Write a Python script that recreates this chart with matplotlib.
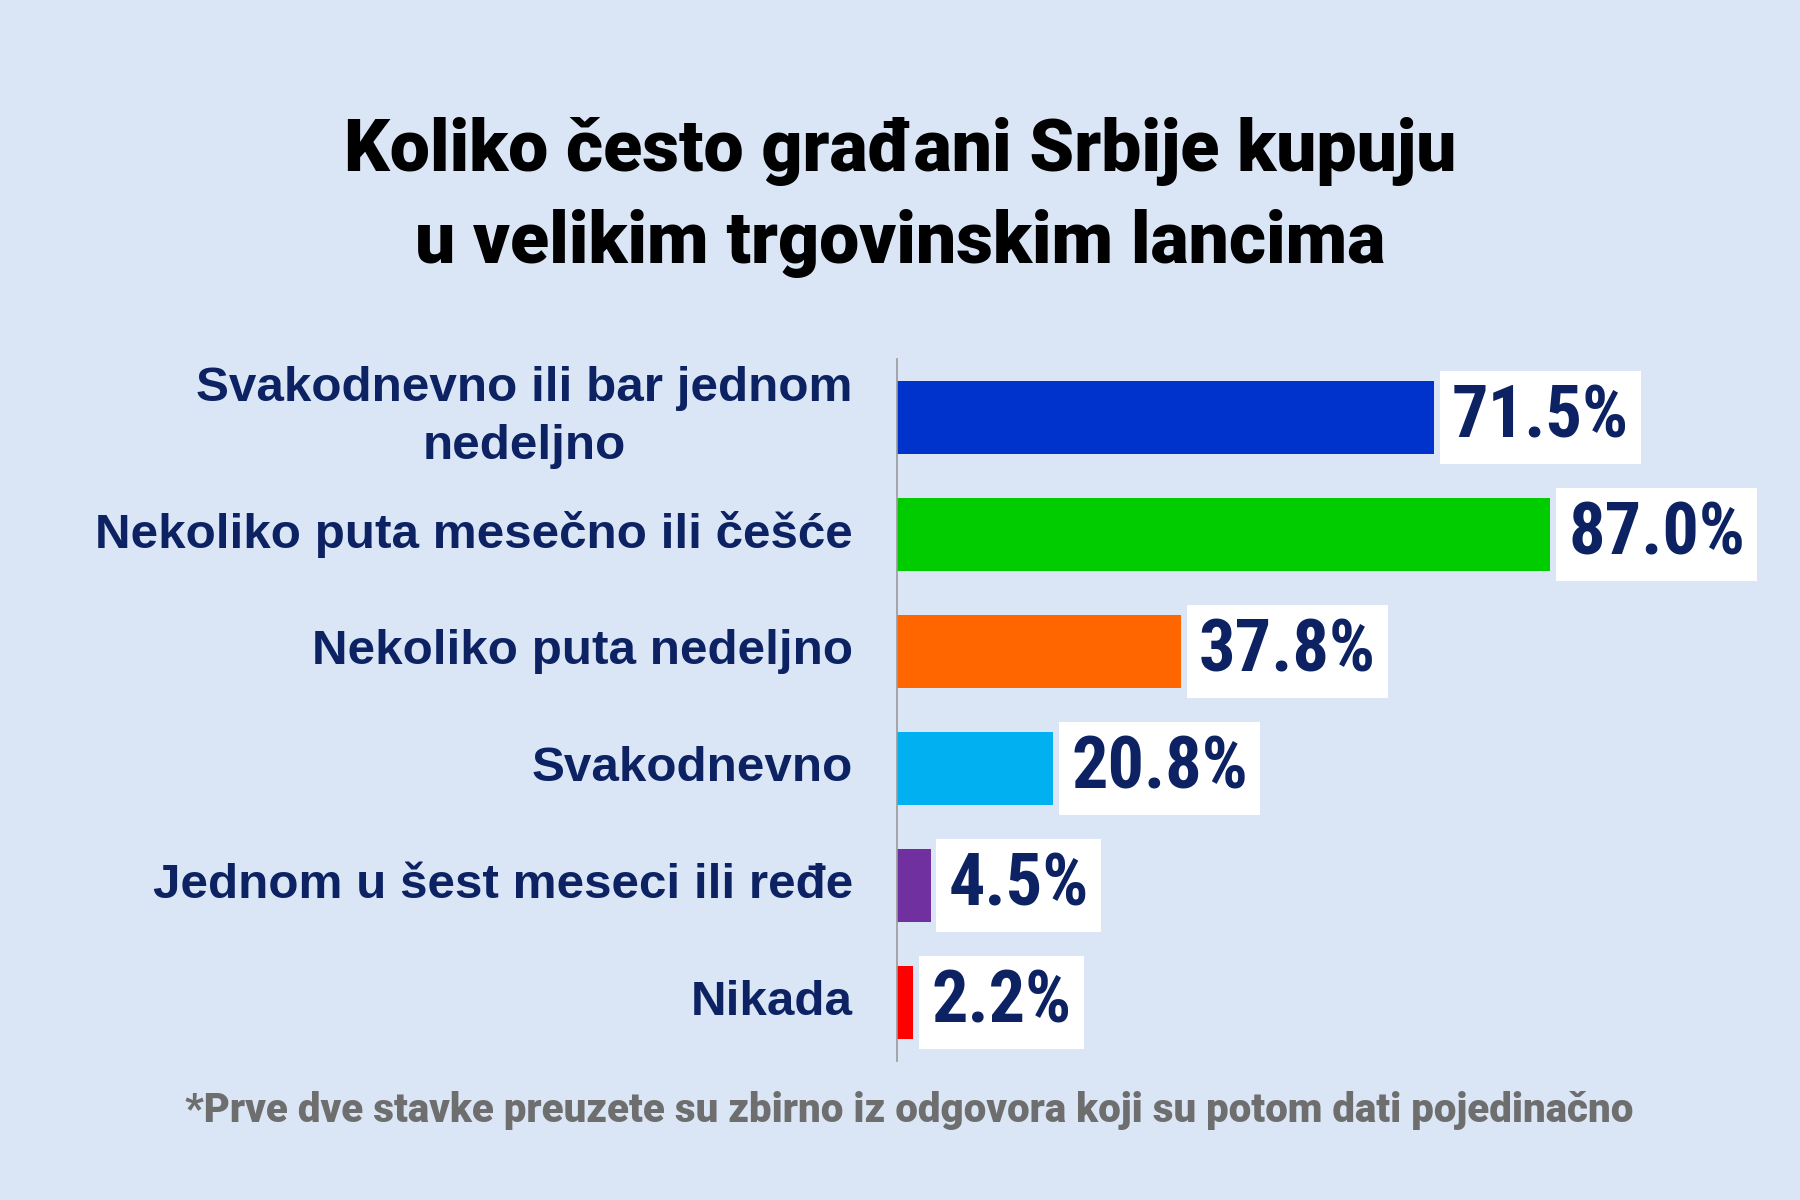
import matplotlib
matplotlib.use("Agg")
import matplotlib.pyplot as plt
import matplotlib.transforms as mtransforms

# ---- data ----
categories = [
    "Svakodnevno ili bar jednom\nnedeljno",
    "Nekoliko puta mesečno ili češće",
    "Nekoliko puta nedeljno",
    "Svakodnevno",
    "Jednom u šest meseci ili ređe",
    "Nikada",
]
values = [71.5, 87.0, 37.8, 20.8, 4.5, 2.2]
bar_colors = ["#0033cc", "#00cc00", "#ff6600", "#00b0f0", "#7030a0", "#ff0000"]
title_lines = ["Koliko često građani Srbije kupuju", "u velikim trgovinskim lancima"]
footnote = "*Prve dve stavke preuzete su zbirno iz odgovora koji su potom dati pojedinačno"

BG = "#dae6f5"
NAVY = "#0c2262"

fig = plt.figure(figsize=(18, 12), dpi=100, facecolor=BG)
ax = fig.add_axes([0.4983, 0.1158, 0.4172, 0.585])
ax.set_facecolor(BG)

ypos = list(range(len(categories)))
ax.barh(ypos, values, height=0.628, color=bar_colors, zorder=2)
ax.set_xlim(0, 100)
ax.set_ylim(len(categories) - 0.5, -0.5)

for s in ["top", "right", "bottom"]:
    ax.spines[s].set_visible(False)
ax.spines["left"].set_color("#9a9a9a")
ax.spines["left"].set_linewidth(1.2)
ax.set_xticks([])
ax.set_yticks([])

# category labels
lab_tr = mtransforms.offset_copy(ax.get_yaxis_transform(), fig=fig, x=-44, y=0, units="dots")
for y, cat in zip(ypos, categories):
    ax.text(0, y, cat, transform=lab_tr, ha="right", va="center", multialignment="center",
            fontsize=35.6, fontweight="bold", color=NAVY,
            family=["Liberation Sans", "DejaVu Sans"], linespacing=1.38)

# value labels
val_tr = mtransforms.offset_copy(ax.transData, fig=fig, x=18, y=0, units="dots")
for y, v in zip(ypos, values):
    ax.text(v, y, f"{v:.1f}%", transform=val_tr, ha="left", va="center",
            fontsize=52, fontweight="bold", fontstretch="condensed", color=NAVY,
            family=["Roboto Condensed", "Liberation Sans Narrow", "DejaVu Sans"],
            bbox=dict(boxstyle="square,pad=0.17", facecolor="white", edgecolor="none"),
            zorder=3)

# title
for yy, line in zip([152, 244], title_lines):
    fig.text(0.5, 1 - yy / 1200, line, ha="center", va="center",
             fontsize=51.5, fontweight="black", color="black", family=["Roboto", "DejaVu Sans"])

# footnote
fig.text(0.505, 1 - 1111 / 1200, footnote, ha="center", va="center",
         fontsize=29, fontweight="black", color="#6e6e6e", family=["Roboto", "DejaVu Sans"])

fig.savefig("out.png", dpi=100, facecolor=BG)
